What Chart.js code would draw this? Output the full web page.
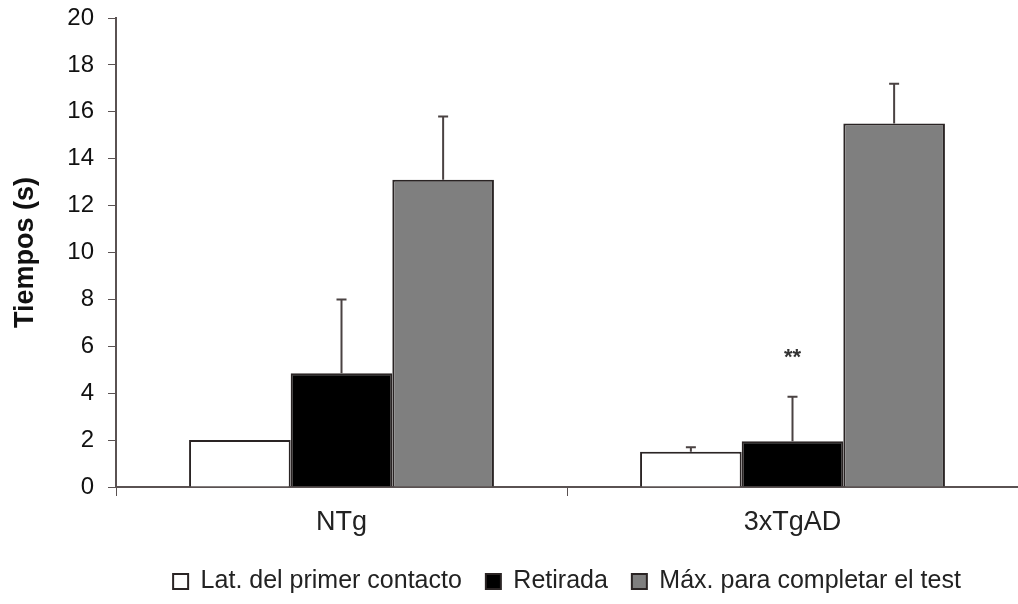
<!DOCTYPE html>
<html lang="es">
<head>
<meta charset="UTF-8">
<title>Tiempos</title>
<script src="https://cdn.jsdelivr.net/npm/chart.js"></script>
<style>
  html, body { margin: 0; padding: 0; background: #fff; }
  #wrap { width: 1018px; height: 604px; }
</style>
</head>
<body>
<div id="wrap"><canvas id="chart"></canvas></div>
<script>
// data
const groups = ['NTg', '3xTgAD'];
const seriesNames = ['Lat. del primer contacto', 'Retirada', 'Máx. para completar el test'];
const latencia = [2.0, 1.5];
const retirada = [4.85, 1.95];
const maximo = [13.1, 15.5];
const latenciaErr = [0, 0.2];
const retiradaErr = [3.15, 1.9];
const maximoErr = [2.7, 1.7];
// significance marks: [dataset index, group index, text, y value]
const marks = [[1, 1, '**', 5.5]];

const axisColor = '#5a5252';
const font = "'Liberation Sans', Arial, sans-serif";

// draws upward-only error bars and the ** mark
const errorBars = {
    id: 'errorBars',
    afterDatasetsDraw(chart) {
        const ctx = chart.ctx;
        const y = chart.scales.y;
        ctx.save();
        ctx.strokeStyle = '#4a4242';
        ctx.lineWidth = 2;
        chart.data.datasets.forEach((ds, i) => {
            const meta = chart.getDatasetMeta(i);
            meta.data.forEach((bar, j) => {
                const err = ds.errors[j];
                if (!err) return;
                const top = y.getPixelForValue(ds.data[j] + err);
                ctx.beginPath();
                ctx.moveTo(bar.x, bar.y);
                ctx.lineTo(bar.x, top);
                ctx.moveTo(bar.x - 5, top);
                ctx.lineTo(bar.x + 5, top);
                ctx.stroke();
            });
        });
        ctx.fillStyle = '#333';
        ctx.font = 'bold 22px ' + font;
        ctx.textAlign = 'center';
        ctx.textBaseline = 'middle';
        marks.forEach(m => {
            const bar = chart.getDatasetMeta(m[0]).data[m[1]];
            ctx.fillText(m[2], bar.x, y.getPixelForValue(m[3]));
        });
        ctx.restore();
    }
};

// centre the legend under the plot area instead of the whole canvas
const legendShift = {
    id: 'legendShift',
    beforeDraw(chart) {
        const lg = chart.legend;
        const dx = (chart.chartArea.left + chart.chartArea.right) / 2 - (lg.left + lg.right) / 2;
        lg.left += dx;
        lg.right += dx;
    }
};

new Chart(document.getElementById('chart'), {
    type: 'bar',
    data: {
        labels: groups,
        datasets: [
            { label: seriesNames[0], data: latencia, errors: latenciaErr, backgroundColor: '#ffffff' },
            { label: seriesNames[1], data: retirada, errors: retiradaErr, backgroundColor: '#000000' },
            { label: seriesNames[2], data: maximo, errors: maximoErr, backgroundColor: '#7f7f7f' }
        ].map(d => Object.assign(d, {
            borderColor: '#2a2424',
            borderWidth: 2,
            borderSkipped: 'bottom',
            categoryPercentage: 0.676,
            barPercentage: 1.0
        }))
    },
    options: {
        responsive: true,
        maintainAspectRatio: false,
        animation: false,
        layout: { padding: { top: 0, right: 0, left: 0, bottom: 0 } },
        plugins: {
            tooltip: { enabled: false },
            legend: {
                position: 'bottom',
                labels: {
                    color: '#222',
                    font: { family: font, size: 25 },
                    boxWidth: 15,
                    boxHeight: 15,
                    padding: 24,
                    useBorderRadius: false
                }
            }
        },
        scales: {
            x: {
                offset: true,
                grid: { offset: true, drawOnChartArea: false, drawTicks: true, tickLength: 9, color: axisColor },
                border: { color: axisColor, width: 2 },
                ticks: { color: '#222', font: { family: font, size: 27 }, padding: 10 },
                afterFit: s => { s.height = 58; }
            },
            y: {
                min: 0,
                max: 20,
                ticks: { stepSize: 2, color: '#111', font: { family: font, size: 24 }, padding: 14 },
                grid: { drawOnChartArea: false, drawTicks: true, tickLength: 8, color: axisColor },
                border: { color: axisColor, width: 2 },
                title: { display: true, text: 'Tiempos (s)', color: '#111', font: { family: font, size: 27, weight: 'bold' }, padding: { top: 9, bottom: 0 } },
                afterFit: s => { s.width = 116; s.paddingTop = 18; }
            }
        }
    },
    plugins: [errorBars, legendShift]
});
</script>
</body>
</html>
